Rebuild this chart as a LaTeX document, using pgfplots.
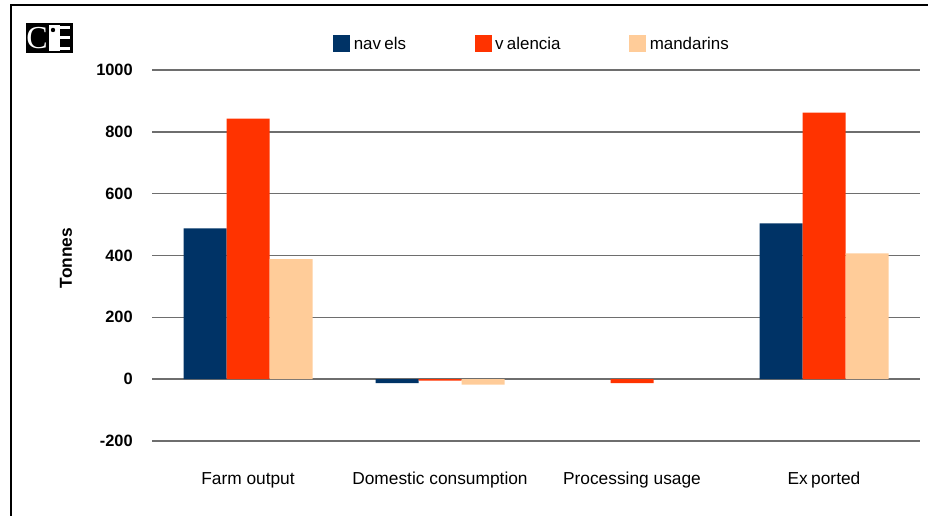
\documentclass[border=0pt]{standalone}
\usepackage{pgfplots}
\pgfplotsset{compat=1.18}
\usepackage{fontspec}
\setmainfont{Liberation Sans}
\newfontfamily\logofont{Liberation Serif}

\definecolor{navelblue}{HTML}{003366}
\definecolor{valred}{HTML}{FF3300}
\definecolor{mandpeach}{HTML}{FFCC99}
\definecolor{gridgray}{RGB}{110,110,110}

\begin{document}
\begin{tikzpicture}[x=0.75pt,y=0.75pt]
% page extent and outer frame (left and top edges)
\path[use as bounding box] (0,0) rectangle (928,516);
\draw[line width=1.5pt,black] (11,0) -- (11,511) -- (928,511);

% CIE logo
\fill[black] (26,463) rectangle (73,493);
\node[text=white,font=\logofont\fontsize{24}{24}\selectfont,inner sep=0pt] at (37,477.5) {C};
\fill[white] (48.5,465) rectangle (60,491);
\fill[black] (53,486) circle (2.2);
\fill[white] (60,466) rectangle (70,469);
\fill[white] (60,476.5) rectangle (70,479.5);
\fill[white] (60,487) rectangle (70,490);

% y-axis title
\node[rotate=90,font=\bfseries\fontsize{13}{15}\selectfont] at (66,258) {Tonnes};

\begin{axis}[
  at={(114pt,56.25pt)}, anchor=south west,
  scale only axis,
  width=576pt, height=278.25pt,
  xmin=-0.5, xmax=3.5,
  ymin=-200, ymax=1000,
  enlargelimits=false,
  axis line style={draw=none},
  ybar=0pt, bar width=32.25pt,
  ytick={-200,0,200,400,600,800,1000},
  xtick={0,1,2,3},
  xticklabels={Farm output, Domestic consumption, Processing usage, Ex\kern2.5pt ported},
  major tick length=0pt,
  ymajorgrids=true,
  grid style={line width=1.2pt, gridgray},
  /pgf/number format/assume math mode=true,
  yticklabel style={font=\bfseries\fontsize{12.3}{14}\selectfont, anchor=east, inner sep=0pt, xshift=-14.25pt},
  xticklabel style={font=\fontsize{13}{15}\selectfont, anchor=center, inner sep=0pt, text height=9.3pt, text depth=2.7pt, yshift=-29pt},
  y tick label style={/pgf/number format/.cd, 1000 sep={}},
  legend columns=3,
  legend style={
    at={(0.2357,1.0701)}, anchor=west,
    draw=none, fill=none, inner sep=0pt,
    font=\fontsize{12.7}{14}\selectfont,
    nodes={inner sep=0pt, anchor=west},
    /tikz/every odd column/.append style={column sep=2.6pt},
    /tikz/every even column/.append style={column sep=51.5pt},
  },
  legend image code/.code={\fill[#1,draw=none] (0pt,-6.375pt) rectangle (12.75pt,6.375pt);},
]
% zero values in "Processing usage" leave no bar
\addplot[fill=navelblue, draw=none] coordinates {(0,488) (1,-13) (3,504)};
\addplot[fill=valred, draw=none] coordinates {(0,843) (1,-5) (2,-13) (3,862)};
\addplot[fill=mandpeach, draw=none] coordinates {(0,388) (1,-18) (3,407)};
\legend{nav\kern2.5pt els, v\kern2.5pt alencia, mandarins}
\end{axis}
\end{tikzpicture}
\end{document}
